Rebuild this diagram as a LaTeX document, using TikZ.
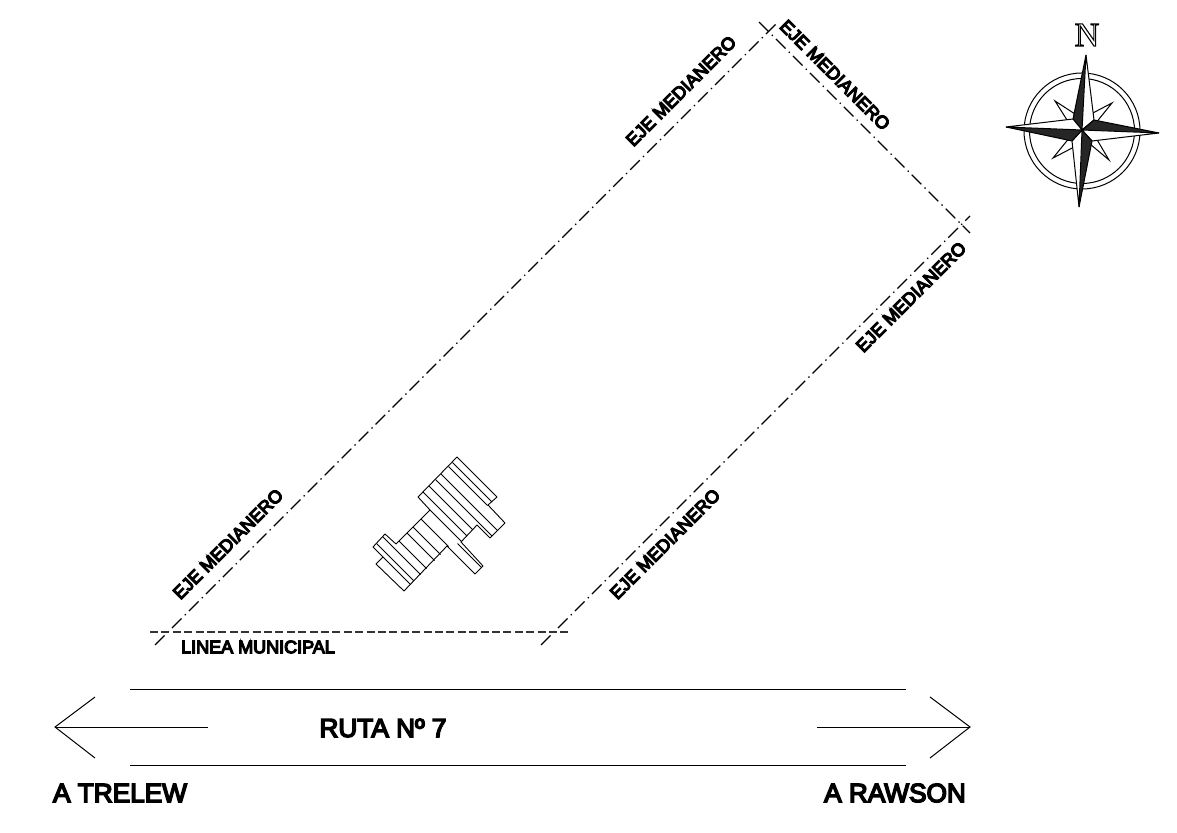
\documentclass[tikz,border=0pt]{standalone}
\usepackage{fontspec}
\setmainfont{Liberation Sans}
\newfontfamily\northfont{Liberation Serif}
\tikzset{
  medianera/.style={line width=0.55pt, dash pattern=on 6.8pt off 2.3pt on 0.7pt off 2.2pt},
  municipal/.style={line width=0.6pt, black!80, dash pattern=on 4pt off 1.7pt},
  road/.style={line width=0.5pt},
  house/.style={line width=0.45pt, line join=round},
  rose/.style={line width=0.5pt, line join=miter},
  heavy/.style={inner sep=0pt,
    execute at begin node={\special{pdf:code 2 Tr #1 w}},
    execute at end node={\special{pdf:code 0 Tr}}},
  tag/.style={heavy=0.6, font=\fontsize{9}{11}\selectfont},
  bigtag/.style={heavy=0.75, font=\fontsize{13.1}{15}\selectfont}
}
\begin{document}
\begin{tikzpicture}[x=0.5pt,y=-0.5pt]
\useasboundingbox (0,0) rectangle (1177,833);
% lot
\coordinate (A) at (155,645);
\coordinate (B) at (778,22);
\coordinate (C) at (759,22);
\coordinate (D) at (970,233);
\coordinate (E) at (541,645);
\coordinate (F) at (970,216);
\coordinate (G) at (150,632);
\coordinate (H) at (570,632);
\draw[medianera] (A) -- (B);
\draw[medianera] (C) -- (D);
\draw[medianera] (E) -- (F);
\draw[municipal] (G) -- (H);
% labels of the lot
\node (m1) at (228,544) [tag, rotate=45] {EJE MEDIANERO};
\node (m2) at (681,91)  [tag, rotate=45] {EJE MEDIANERO};
\node (m3) at (835,75)  [tag, rotate=-45] {EJE MEDIANERO};
\node (m4) at (911,297) [tag, rotate=45] {EJE MEDIANERO};
\node (m5) at (665,544) [tag, rotate=45] {EJE MEDIANERO};
\node (lm) at (258,647) [tag] {LINEA MUNICIPAL};
% house
\draw[house] (457,457) -- (497,497) -- (488,505) -- (505,523) -- (490,538) -- (477,525)
  -- (461,542) -- (483,566) -- (475,574) -- (447,546) -- (404,591) -- (376,564)
  -- (383,557) -- (373,547) -- (385,534) -- (396,544) -- (430,510) -- (418,497) -- cycle;
\foreach \k/\a/\b in {10/915/994, 18/915/993, 33/915/1028, 44/915/1028, 57/915/1003, 69/915/1003,
    80/940/1003, 98/940/995, 114/940/995, 126/940/995, 142/940/995,
    154/920/995, 167/920/995, 174/940/995, 86/1001/1049}
  \draw[house] ({(\a-\k)/2},{(\a+\k)/2}) -- ({(\b-\k)/2},{(\b+\k)/2});
% road
\coordinate (R1) at (130,689);
\coordinate (R2) at (906,689);
\coordinate (R3) at (130,765);
\coordinate (R4) at (906,765);
\draw[road] (R1) -- (R2);
\draw[road] (R3) -- (R4);
\coordinate (T0) at (55,727);
\coordinate (T1) at (95,697);
\coordinate (T2) at (95,758);
\coordinate (T3) at (208,727);
\coordinate (W0) at (970,727);
\coordinate (W1) at (930,697);
\coordinate (W2) at (930,758);
\coordinate (W3) at (817,727);
\draw[road] (T1) -- (T0) -- (T2);
\draw[road] (T0) -- (T3);
\draw[road] (W1) -- (W0) -- (W2);
\draw[road] (W0) -- (W3);
\node (ruta) at (383,728) [bigtag] {RUTA Nº 7};
\node (trelew) at (120,793) [bigtag] {A TRELEW};
\node (rawson) at (895,793) [bigtag] {A RAWSON};
% north
\draw[rose] (1082,131) circle (58);
\draw[rose] (1082,131) circle (52.5);
\coordinate (O) at (1082,130);
\coordinate (PN) at (1086,55);
\coordinate (PE) at (1159,133);
\coordinate (PS) at (1079,207);
\coordinate (PW) at (1006,127);
\coordinate (WA) at (1073,119);
\coordinate (WB) at (1094,120);
\coordinate (WC) at (1092,141);
\coordinate (WD) at (1072,141);
\draw[rose, fill=white] (1055,101) -- (1075,114) -- (O) -- (1067,120) -- cycle;
\draw[rose, fill=white] (1112,103) -- (1095,124) -- (O) -- (1089,115) -- cycle;
\draw[rose, fill=white] (1109,160) -- (1090,144) -- (O) -- (1096,138) -- cycle;
\draw[rose, fill=white] (1053,158) -- (1070,137) -- (O) -- (1076,146) -- cycle;
\foreach \tip/\wa/\wb in {PN/WA/WB, PE/WB/WC, PS/WC/WD, PW/WD/WA}{
  \fill[black!85] (\tip) -- (\wa) -- (O) -- cycle;
  \draw[rose, fill=white] (\tip) -- (\wb) -- (O) -- cycle;
  \draw[rose] (\tip) -- (\wa) -- (O);
}
\node (north) at (1087,35) [inner sep=0pt, font=\northfont\fontsize{17}{19}\selectfont]
  {\special{pdf:code 1 Tr 0.55 w}N\special{pdf:code 0 Tr}};
\end{tikzpicture}
\end{document}
